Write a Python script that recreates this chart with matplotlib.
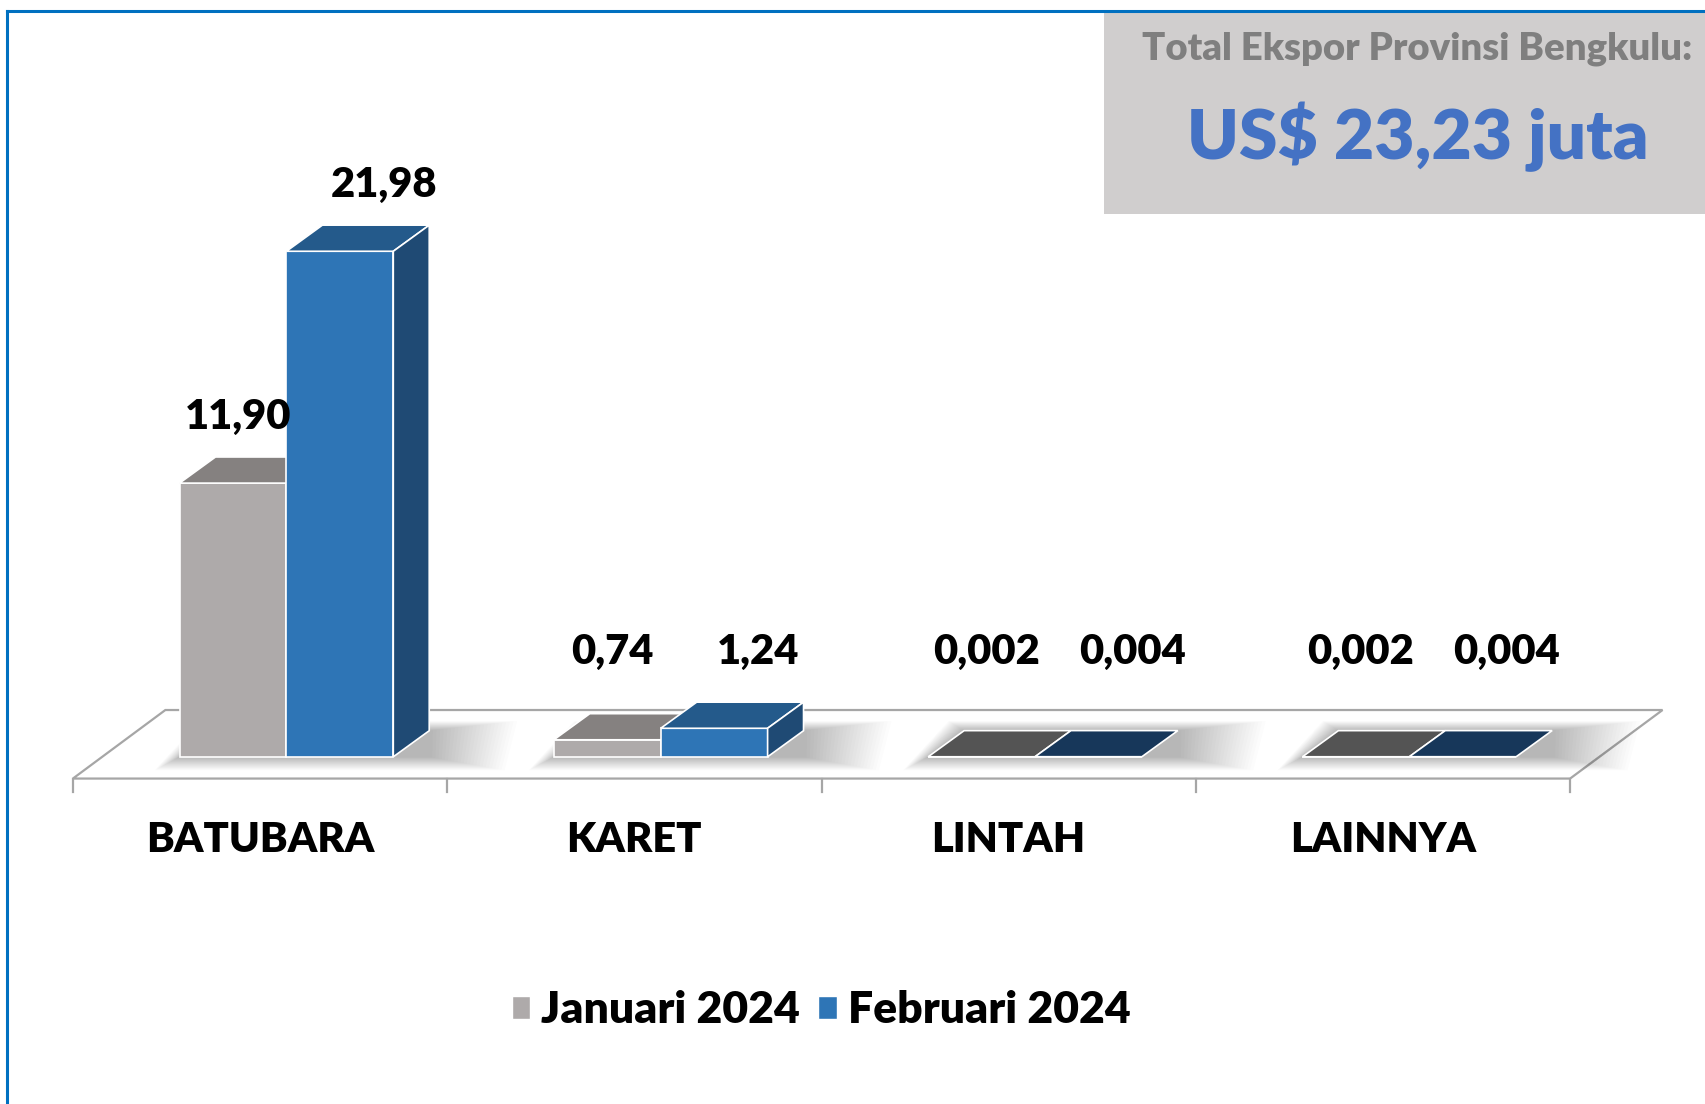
import numpy as np
import matplotlib
matplotlib.use("Agg")
import matplotlib.pyplot as plt
from matplotlib.patches import Polygon, Patch, Rectangle

categories = ["BATUBARA", "KARET", "LINTAH", "LAINNYA"]
jan_2024 = [11.90, 0.74, 0.002, 0.002]
feb_2024 = [21.98, 1.24, 0.004, 0.004]
jan_labels = ["11,90", "0,74", "0,002", "0,002"]
feb_labels = ["21,98", "1,24", "0,004", "0,004"]
series_names = ["Januari 2024", "Februari 2024"]
total_title = "Total Ekspor Provinsi Bengkulu:"
total_value = "US$ 23,23 juta"

FONT = ["Lato", "DejaVu Sans"]
plt.rcParams["font.family"] = FONT
WEIGHT = "heavy"

# colours: front, top, side, top when the bar is flat
JAN = dict(front="#AEAAAA", top="#858180", side="#6f6b6a", flat="#545454")
FEB = dict(front="#2E75B6", top="#245A8B", side="#1F4A74", flat="#17375A")

W, H = 1705, 1104
fig = plt.figure(figsize=(W / 100, H / 100), dpi=100)
ax = fig.add_axes([0, 0, 1, 1])
# x in category slots, y in value units (23 px per unit, baseline at 757 px)
slot_px, unit_px = 374.3, 23.0
x0_px, base_px = 72.9, 756.8
ax.set_xlim(-x0_px / slot_px, (W - x0_px) / slot_px)
ax.set_ylim(-(H - base_px) / unit_px, base_px / unit_px)
ax.axis("off")

n = len(categories)
bar_w = 0.2855
pair_start = 0.285
dx, dy = 0.096, 1.135          # bar depth
fdx, fdy = 0.247, 2.98         # floor depth
f_front = -0.946               # floor front edge
floor_c = "#A6A6A6"

# floor
floor = Polygon([(0, f_front), (n, f_front), (n + fdx, f_front + fdy),
                 (fdx, f_front + fdy)], closed=True, fc="white",
                ec=floor_c, lw=1.6, zorder=1)
ax.add_patch(floor)
for i in range(n + 1):
    ax.plot([i, i], [f_front, f_front - 0.6], color=floor_c, lw=1.6, zorder=1)
for i, c in enumerate(categories):
    ax.text(i + 0.5, f_front - 2.65, c, ha="center", va="center",
            fontsize=30, fontweight=WEIGHT, color="black")

xj = np.arange(n) + pair_start
xf = xj + bar_w

# soft shadow under each pair of bars
for i in range(n):
    a, b = xj[i], xf[i] + bar_w
    for k in range(24):
        e = 0.0035 * (k + 1)
        sh = Polygon([(a - e * 0.8, -e * 7), (b + dx + e * 2.4, -e * 7),
                      (b + dx + e * 2.8, dy + e * 5), (a + dx - e * 0.5, dy + e * 5)],
                     closed=True, fc="black", ec="none", alpha=0.012, zorder=2)
        ax.add_patch(sh)


def draw_bar(x, v, col, side):
    ax.bar(x, v, width=bar_w, align="edge", color=col["front"],
           edgecolor="white", lw=1.2, zorder=3)
    top_c = col["flat"] if v < 0.05 else col["top"]
    ax.add_patch(Polygon([(x, v), (x + bar_w, v), (x + bar_w + dx, v + dy),
                          (x + dx, v + dy)], closed=True, fc=top_c,
                         ec="white", lw=1.2, zorder=3))
    if side and v >= 0.05:
        ax.add_patch(Polygon([(x + bar_w, 0), (x + bar_w + dx, dy),
                              (x + bar_w + dx, v + dy), (x + bar_w, v)],
                             closed=True, fc=col["side"], ec="white",
                             lw=1.2, zorder=3))


for i in range(n):
    draw_bar(xj[i], jan_2024[i], JAN, False)
    draw_bar(xf[i], feb_2024[i], FEB, True)

# value labels
for xs, vals, labs, off in [(xj, jan_2024, jan_labels, -0.035),
                            (xf, feb_2024, feb_labels, 0.07)]:
    for x, v, lab in zip(xs, vals, labs):
        y = max(v + dy + 1.75, 4.55)
        ax.text(x + (bar_w + dx) / 2 + off, y, lab, ha="center", va="center",
                fontsize=30, fontweight=WEIGHT, color="black", zorder=5)

# blue frame (top and left edges)
fig.add_artist(plt.Line2D([7 / W, 1], [1 - 11 / H, 1 - 11 / H],
                          transform=fig.transFigure, color="#0070C0", lw=2.2))
fig.add_artist(plt.Line2D([7 / W, 7 / W], [0, 1 - 11 / H],
                          transform=fig.transFigure, color="#0070C0", lw=2.2))

# total box
fig.add_artist(Rectangle((1104 / W, 1 - 214 / H), (W - 1104) / W, 201 / H,
                         transform=fig.transFigure, fc="#D0CECE", ec="none"))
fig.text(1417 / W, 1 - 49 / H, total_title, ha="center", va="center",
         fontsize=27.5, fontweight=WEIGHT, color="#7F7F7F")
fig.text(1418 / W, 1 - 137 / H, total_value, ha="center", va="center",
         fontsize=50, fontweight=WEIGHT, color="#4472C4")

handles = [Patch(fc=JAN["front"], ec="white", label=series_names[0]),
           Patch(fc=FEB["front"], ec="white", label=series_names[1])]
fig.legend(handles=handles, loc="center", bbox_to_anchor=(821 / W, 94 / H),
           ncol=2, frameon=False,
           prop=dict(family=FONT, weight=WEIGHT, size=32),
           handlelength=0.42, handleheight=0.42, handletextpad=0.25,
           columnspacing=0.4)

fig.savefig("out.png", dpi=100)
